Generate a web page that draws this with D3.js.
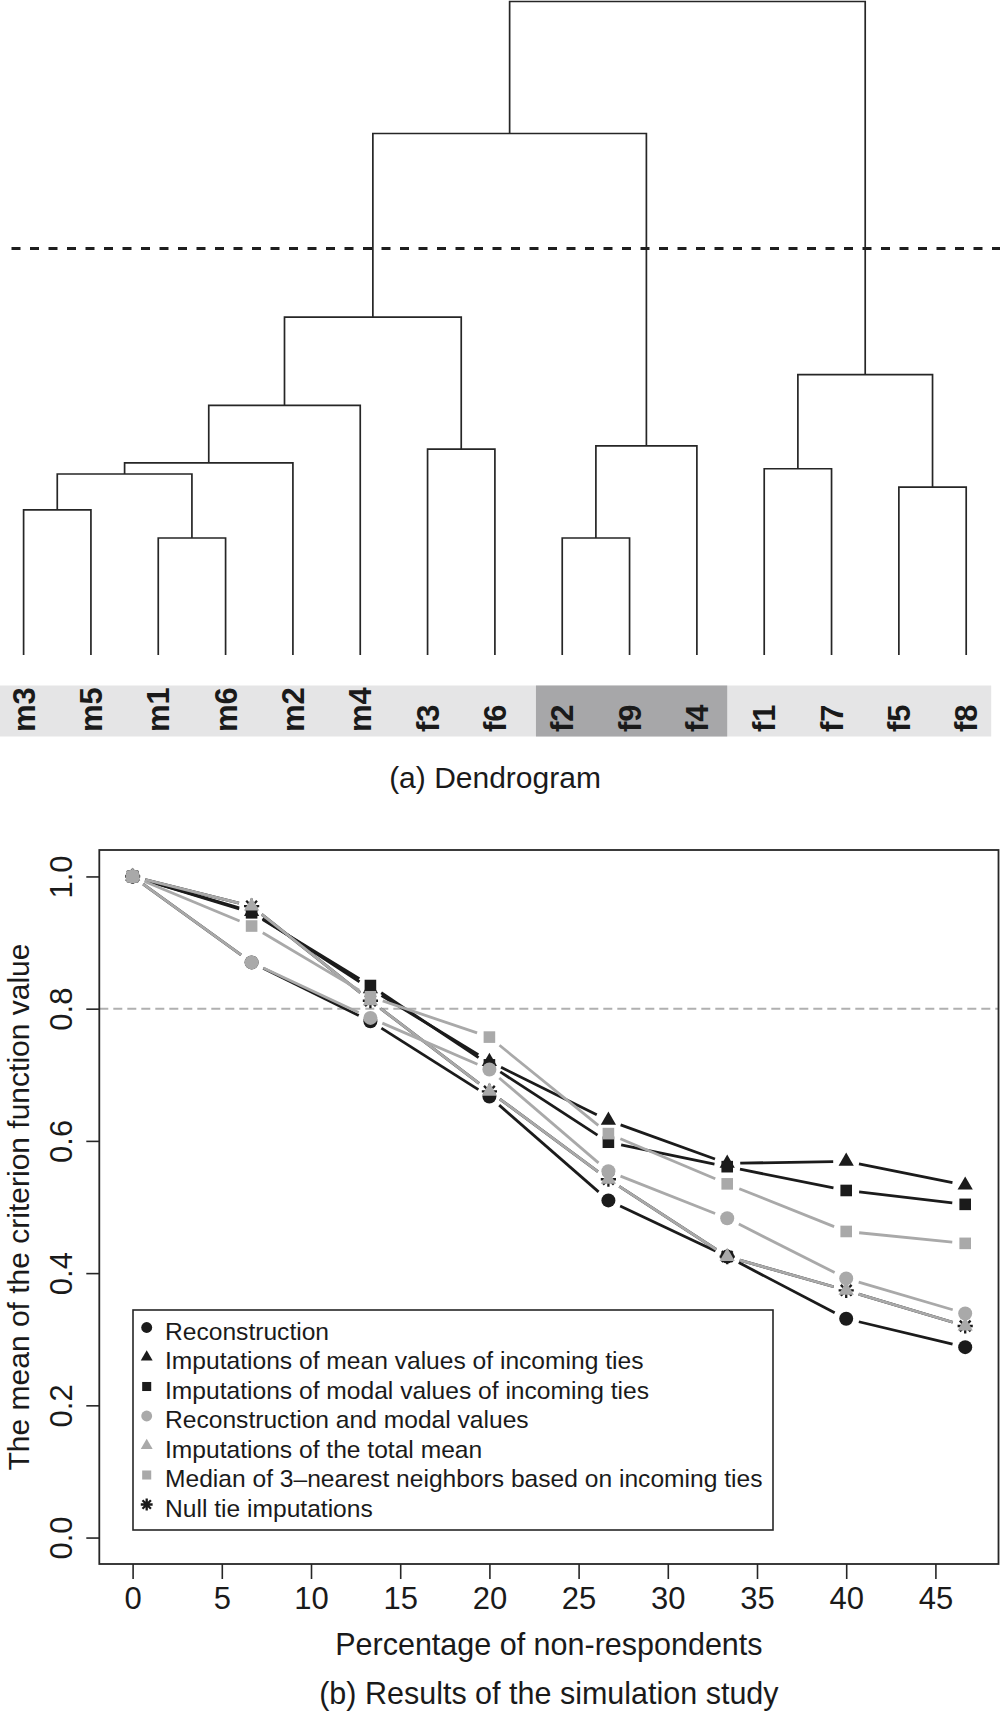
<!DOCTYPE html>
<html>
<head>
<meta charset="utf-8">
<script src="https://cdn.jsdelivr.net/npm/d3@7"></script>
<style>
html, body { margin: 0; padding: 0; background: #ffffff; }
svg { display: block; }
text { font-family: "Liberation Sans", Arial, Helvetica, sans-serif; fill: #1a1a1a; }
</style>
</head>
<body>
<svg id="chart" width="1000" height="1718"></svg>
<script>
// ===================== DATA =====================
// (a) Dendrogram
const leafLabels = ["m3","m5","m1","m6","m2","m4","f3","f6","f2","f9","f4","f1","f7","f5","f8"];
const highlightedLeaves = ["f2","f9","f4"];
// merges in order; "#k" refers to the k-th merge (1-based)
const mergeLeft   = ["m1","f2","m3","f5","#3","f1","#5","f3","#2","#7","#6","#10","#12","#13"];
const mergeRight  = ["m6","f9","m5","f8","#1","f7","m2","f6","f4","m4","#4","#8","#9","#11"];
const mergeHeight = [1.79, 1.79, 2.22, 2.57, 2.77, 2.85, 2.94, 3.15, 3.20, 3.82, 4.29, 5.17, 7.98, 10.0];
const cutHeight = 6.22;

// (b) Simulation study
const pctNonResp = [0, 6.67, 13.33, 20, 26.67, 33.33, 40, 46.67];
const reconstruction      = [1.000, 0.870, 0.781, 0.667, 0.510, 0.425, 0.331, 0.288];
const meanIncoming        = [1.000, 0.947, 0.830, 0.720, 0.631, 0.566, 0.569, 0.533];
const modalIncoming       = [1.000, 0.945, 0.835, 0.715, 0.598, 0.561, 0.525, 0.504];
const reconModal          = [1.000, 0.870, 0.786, 0.708, 0.554, 0.483, 0.392, 0.339];
const totalMean           = [1.000, 0.955, 0.812, 0.675, 0.542, 0.425, 0.374, 0.320];
const median3NN           = [1.000, 0.925, 0.818, 0.757, 0.611, 0.535, 0.463, 0.445];
const nullTie             = [1.000, 0.955, 0.812, 0.675, 0.542, 0.425, 0.374, 0.320];
const xTicks = [0, 5, 10, 15, 20, 25, 30, 35, 40, 45];
const yTicks = [0.0, 0.2, 0.4, 0.6, 0.8, 1.0];
const refLevel = 0.8;
const legendLabels = [
  "Reconstruction",
  "Imputations of mean values of incoming ties",
  "Imputations of modal values of incoming ties",
  "Reconstruction and modal values",
  "Imputations of the total mean",
  "Median of 3\u2013nearest neighbors based on incoming ties",
  "Null tie imputations"
];

// ===================== STYLE =====================
const BLACK = "#1b1b1b", GRAY = "#a9a9a9", LINE = "#262626";
const series = [
  { name: legendLabels[6], values: nullTie,        color: BLACK, shape: "star" },
  { name: legendLabels[0], values: reconstruction, color: BLACK, shape: "circle" },
  { name: legendLabels[1], values: meanIncoming,   color: BLACK, shape: "triangle" },
  { name: legendLabels[2], values: modalIncoming,  color: BLACK, shape: "square" },
  { name: legendLabels[3], values: reconModal,     color: GRAY,  shape: "circle" },
  { name: legendLabels[4], values: totalMean,      color: GRAY,  shape: "triangle" },
  { name: legendLabels[5], values: median3NN,      color: GRAY,  shape: "square" }
];
const legendItems = [
  { label: legendLabels[0], color: BLACK, shape: "circle" },
  { label: legendLabels[1], color: BLACK, shape: "triangle" },
  { label: legendLabels[2], color: BLACK, shape: "square" },
  { label: legendLabels[3], color: GRAY,  shape: "circle" },
  { label: legendLabels[4], color: GRAY,  shape: "triangle" },
  { label: legendLabels[5], color: GRAY,  shape: "square" },
  { label: legendLabels[6], color: BLACK, shape: "star" }
];

const svg = d3.select("#chart");

// ===================== (a) DENDROGRAM =====================
const leafX = d3.scalePoint().domain(leafLabels).range([23.6, 966.2]);
const hY = d3.scaleLinear().domain([0, 10]).range([655, 1.5]);
const step = leafX.step();

// label band
const gBand = svg.append("g");
gBand.append("rect")
  .attr("x", 0).attr("y", 685.5)
  .attr("width", leafX(leafLabels[leafLabels.length - 1]) + 25).attr("height", 51)
  .attr("fill", "#e5e5e6");
gBand.append("rect")
  .attr("x", leafX(highlightedLeaves[0]) - step * 0.39)
  .attr("y", 685.5)
  .attr("width", leafX(highlightedLeaves[highlightedLeaves.length - 1]) - leafX(highlightedLeaves[0]) + step * 0.84)
  .attr("height", 51)
  .attr("fill", "#a7a7a9");

// tree
const nodes = {};
leafLabels.forEach(l => { nodes[l] = { x: leafX(l), h: 0 }; });
const gTree = svg.append("g")
  .attr("fill", "none").attr("stroke", LINE).attr("stroke-width", 1.7)
  .attr("stroke-linejoin", "miter").attr("stroke-linecap", "butt");
mergeLeft.forEach((L, i) => {
  const a = nodes[L], b = nodes[mergeRight[i]], h = mergeHeight[i];
  const yy = hY(h);
  gTree.append("path")
    .attr("d", `M${a.x},${hY(a.h)}V${yy}H${b.x}V${hY(b.h)}`);
  nodes["#" + (i + 1)] = { x: (a.x + b.x) / 2, h: h };
});

// cut line
svg.append("line")
  .attr("x1", 11.5).attr("x2", 1000)
  .attr("y1", hY(cutHeight)).attr("y2", hY(cutHeight))
  .attr("stroke", "#1e1e1e").attr("stroke-width", 3.2)
  .attr("stroke-dasharray", "9,9.5");

// leaf labels
svg.append("g").selectAll("text").data(leafLabels).join("text")
  .attr("transform", d => `translate(${leafX(d)},732) rotate(-90)`)
  .attr("dy", "0.36em")
  .attr("text-anchor", "start")
  .attr("font-weight", "bold")
  .attr("font-size", 31)
  .text(d => d);

svg.append("text")
  .attr("x", 495).attr("y", 788)
  .attr("text-anchor", "middle").attr("font-size", 30)
  .text("(a) Dendrogram");

// ===================== (b) SIMULATION PLOT =====================
const xPad = 0.04 * (d3.max(pctNonResp) - d3.min(pctNonResp));
const x = d3.scaleLinear()
  .domain([d3.min(pctNonResp) - xPad, d3.max(pctNonResp) + xPad])
  .range([99.3, 998.5]);
const y = d3.scaleLinear().domain([-0.04, 1.04]).range([1564, 850]);
const [X0, X1] = x.range(), [Y0, Y1] = y.range();

// reference line
svg.append("line")
  .attr("x1", X0).attr("x2", X1)
  .attr("y1", y(refLevel)).attr("y2", y(refLevel))
  .attr("stroke", "#b0b0b0").attr("stroke-width", 2)
  .attr("stroke-dasharray", "9,5");

// axes
const gx = svg.append("g").attr("transform", `translate(0,${Y0})`)
  .call(d3.axisBottom(x).tickValues(xTicks).tickSize(15).tickPadding(8).tickFormat(d3.format("d")));
gx.select(".domain").remove();
gx.selectAll("line").attr("stroke", LINE).attr("stroke-width", 1.6);
gx.selectAll("text").attr("font-size", 31).attr("fill", "#1a1a1a")
  .attr("font-family", "Liberation Sans, Arial, sans-serif");

const gy = svg.append("g").attr("transform", `translate(${X0},0)`)
  .call(d3.axisLeft(y).tickValues(yTicks).tickSize(13).tickFormat(d3.format(".1f")));
gy.select(".domain").remove();
gy.selectAll("line").attr("stroke", LINE).attr("stroke-width", 1.6);
gy.selectAll("text")
  .attr("x", null).attr("dy", null)
  .attr("transform", `translate(${72 - X0},0) rotate(-90)`)
  .attr("text-anchor", "middle")
  .attr("font-size", 31).attr("fill", "#1a1a1a")
  .attr("font-family", "Liberation Sans, Arial, sans-serif");

// frame
svg.append("rect")
  .attr("x", X0).attr("y", Y1)
  .attr("width", X1 - X0).attr("height", Y0 - Y1)
  .attr("fill", "none").attr("stroke", LINE).attr("stroke-width", 1.8);

// symbol drawer
function drawSymbol(g, shape, cx, cy, color, s) {
  if (shape === "circle") {
    g.append("circle").attr("cx", cx).attr("cy", cy).attr("r", 7 * s).attr("fill", color);
  } else if (shape === "triangle") {
    const R = 8.8 * s;
    g.append("path")
      .attr("d", `M${cx},${cy - R}L${cx + R * 0.866},${cy + R * 0.5}L${cx - R * 0.866},${cy + R * 0.5}Z`)
      .attr("fill", color);
  } else if (shape === "square") {
    const h = 5.8 * s;
    g.append("rect").attr("x", cx - h).attr("y", cy - h).attr("width", 2 * h).attr("height", 2 * h)
      .attr("fill", color);
  } else if (shape === "star") {
    const a = 7.6 * s, d = 5.4 * s;
    g.append("path")
      .attr("d", `M${cx - a},${cy}H${cx + a}M${cx},${cy - a}V${cy + a}` +
                 `M${cx - d},${cy - d}L${cx + d},${cy + d}M${cx - d},${cy + d}L${cx + d},${cy - d}`)
      .attr("stroke", color).attr("stroke-width", 2.3).attr("fill", "none");
  }
}

// series (type "b": lines with gaps around points)
const GAP = 13;
const gSeries = svg.append("g");
series.forEach(s => {
  const g = gSeries.append("g");
  const pts = s.values.map((v, i) => [x(pctNonResp[i]), y(v)]);
  for (let i = 0; i < pts.length - 1; i++) {
    const [xa, ya] = pts[i], [xb, yb] = pts[i + 1];
    const dx = xb - xa, dy = yb - ya, len = Math.hypot(dx, dy);
    if (len <= 2 * GAP) continue;
    const ux = dx / len, uy = dy / len;
    g.append("line")
      .attr("x1", xa + ux * GAP).attr("y1", ya + uy * GAP)
      .attr("x2", xb - ux * GAP).attr("y2", yb - uy * GAP)
      .attr("stroke", s.color).attr("stroke-width", 2.8);
  }
  pts.forEach(p => drawSymbol(g, s.shape, p[0], p[1], s.color, 1));
});

// legend
const gLeg = svg.append("g");
gLeg.append("rect")
  .attr("x", 133).attr("y", 1310).attr("width", 640).attr("height", 220)
  .attr("fill", "#ffffff").attr("stroke", LINE).attr("stroke-width", 1.6);
legendItems.forEach((it, i) => {
  const cy = 1327.5 + i * 29.5;
  drawSymbol(gLeg, it.shape, 146.7, cy, it.color, 0.78);
  gLeg.append("text")
    .attr("x", 165).attr("y", cy + 12)
    .attr("font-size", 24.6)
    .text(it.label);
});

// axis titles and caption
svg.append("text")
  .attr("transform", `translate(29,${(Y0 + Y1) / 2}) rotate(-90)`)
  .attr("text-anchor", "middle").attr("font-size", 30)
  .text("The mean of the criterion function value");
svg.append("text")
  .attr("x", (X0 + X1) / 2).attr("y", 1655)
  .attr("text-anchor", "middle").attr("font-size", 30.5)
  .text("Percentage of non-respondents");
svg.append("text")
  .attr("x", (X0 + X1) / 2).attr("y", 1704)
  .attr("text-anchor", "middle").attr("font-size", 30.5)
  .text("(b) Results of the simulation study");
</script>
</body>
</html>
